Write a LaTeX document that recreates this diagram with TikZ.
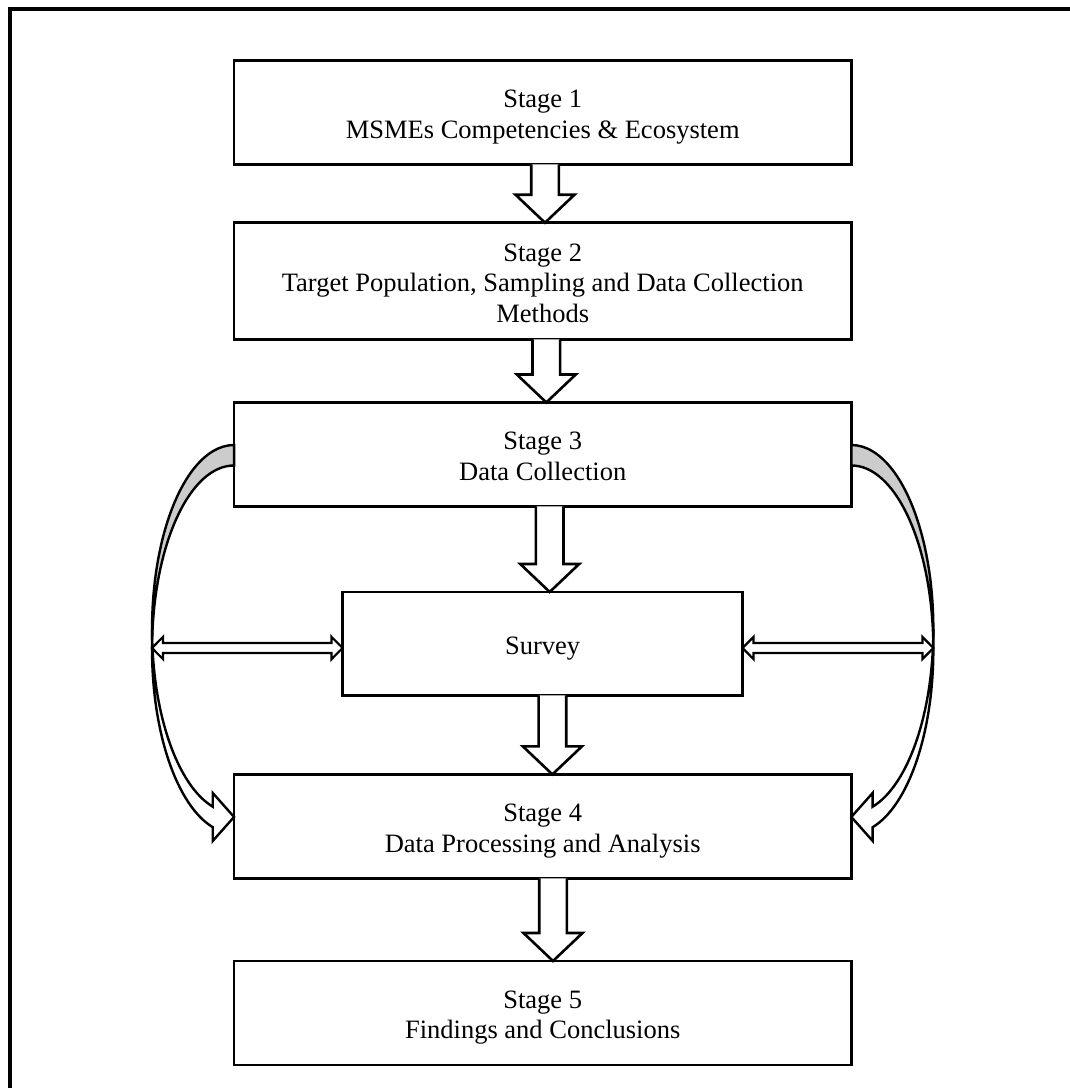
\documentclass[tikz,border=0pt]{standalone}
\usepackage{fontspec}
\setmainfont{Liberation Serif}
\usetikzlibrary{calc}

% invisible struts that fix the vertical placement of the box texts
\newcommand\topstrut{\rule{0pt}{27pt}}
\newcommand\botstrut{\rule[-6pt]{0pt}{6pt}}
\newcommand\onestrut{\rule[-6pt]{0pt}{33pt}}

\tikzset{
  stage/.style={draw, line width=2.6pt, minimum width=617.3pt, minimum height=104pt,
    inner sep=0pt, outer sep=0pt, align=center,
    font=\fontsize{26.5pt}{30.5pt}\selectfont},
  blockarrow/.style={draw, line width=2.6pt, line join=miter, fill=white},
  twoway/.style={draw, line width=2.2pt, line join=miter, fill=white},
  band/.style={draw, line width=2.4pt, line join=miter},
  frame/.style={line width=4.5pt, line join=miter}
}

% hollow block arrow pointing down, from one box to the next, at horizontal position #3
\newcommand\downblock[3]{%
  \draw[blockarrow] let \p1=(#1.south), \p2=(#2.north) in
    (#3-13.8,\y1) -- (#3-13.8,\y2+28) -- (#3-29.5,\y2+28) -- (#3,\y2)
    -- (#3+29.5,\y2+28) -- (#3+13.8,\y2+28) -- (#3+13.8,\y1);}

% hollow double-headed horizontal arrow between two points
\newcommand\twowayarrow[2]{%
  \draw[twoway] let \p1=(#1), \p2=(#2) in
    (\x1,\y1) -- (\x1+11,\y1+11.15) -- (\x1+11,\y1+5) -- (\x2-11,\y1+5)
    -- (\x2-11,\y1+11.15) -- (\x2,\y1) -- (\x2-11,\y1-11.15) -- (\x2-11,\y1-5)
    -- (\x1+11,\y1-5) -- (\x1+11,\y1-11.15) -- cycle;}

\begin{document}
\begin{tikzpicture}[x=1pt, y=1pt]
  \useasboundingbox (0,0) rectangle (1070,-1088);
  \clip (0,0) rectangle (1070,-1088);

  % page frame
  \draw[frame] (9.8,-1100) -- (9.8,-9) -- (1100,-9);

  % stages
  \node[stage] (s1) at (542.7,-112.4)
    {\topstrut Stage 1\\MSMEs Competencies \& Ecosystem\botstrut};
  \node[stage, minimum height=116.6pt] (s2) at (542.7,-281)
    {\topstrut Stage 2\\Target Population, Sampling and Data Collection\\Methods\botstrut};
  \node[stage] (s3) at (542.7,-454.45)
    {\topstrut Stage 3\\Data Collection\botstrut};
  \node[stage, minimum width=400pt, minimum height=103.3pt] (sv) at (542.55,-643.6)
    {\onestrut Survey};
  \node[stage] (s4) at (542.7,-826.4)
    {\topstrut Stage 4\\Data Processing and Analysis\botstrut};
  \node[stage] (s5) at (542.7,-1013)
    {\topstrut Stage 5\\Findings and Conclusions\botstrut};

  % main flow
  \downblock{s1}{s2}{545}
  \downblock{s2}{s3}{546.3}
  \downblock{s3}{sv}{549.7}
  \downblock{sv}{s4}{552.4}
  \downblock{s4}{s5}{553}

  % curved feedback arrow, left: shaded back of the band
  \draw[band, fill=gray!40] ([yshift=9.45pt]s3.west)
    arc[start angle=90, end angle=183.19, x radius=82pt, y radius=184pt]
    arc[start angle=176.81, end angle=90, x radius=82pt, y radius=184pt] -- cycle;
  % left: front of the band with its head
  \draw[band, fill=white] ([yshift=9.45pt]s4.west) -- ++(-21.3,24) -- ++(0,-13.72)
    arc[start angle=254.94, end angle=180, x radius=82pt, y radius=184pt]
    -- ++(0,-20.5)
    arc[start angle=180, end angle=254.94, x radius=82pt, y radius=184pt]
    -- ++(0,-13.78) -- cycle;

  % curved feedback arrow, right: shaded back of the band
  \draw[band, fill=gray!40] ([yshift=9.45pt]s3.east)
    arc[start angle=90, end angle=-3.19, x radius=82pt, y radius=184pt]
    arc[start angle=3.19, end angle=90, x radius=82pt, y radius=184pt] -- cycle;
  % right: front of the band with its head
  \draw[band, fill=white] ([yshift=9.45pt]s4.east) -- ++(21.3,24) -- ++(0,-13.72)
    arc[start angle=-74.94, end angle=0, x radius=82pt, y radius=184pt]
    -- ++(0,-20.5)
    arc[start angle=0, end angle=-74.94, x radius=82pt, y radius=184pt]
    -- ++(0,-13.78) -- cycle;

  % links between the survey and the curved arrows
  \coordinate (Lm) at (152,-648);
  \coordinate (Rm) at (933.4,-648);
  \twowayarrow{Lm}{sv.west |- Lm}
  \twowayarrow{sv.east |- Rm}{Rm}
\end{tikzpicture}
\end{document}
